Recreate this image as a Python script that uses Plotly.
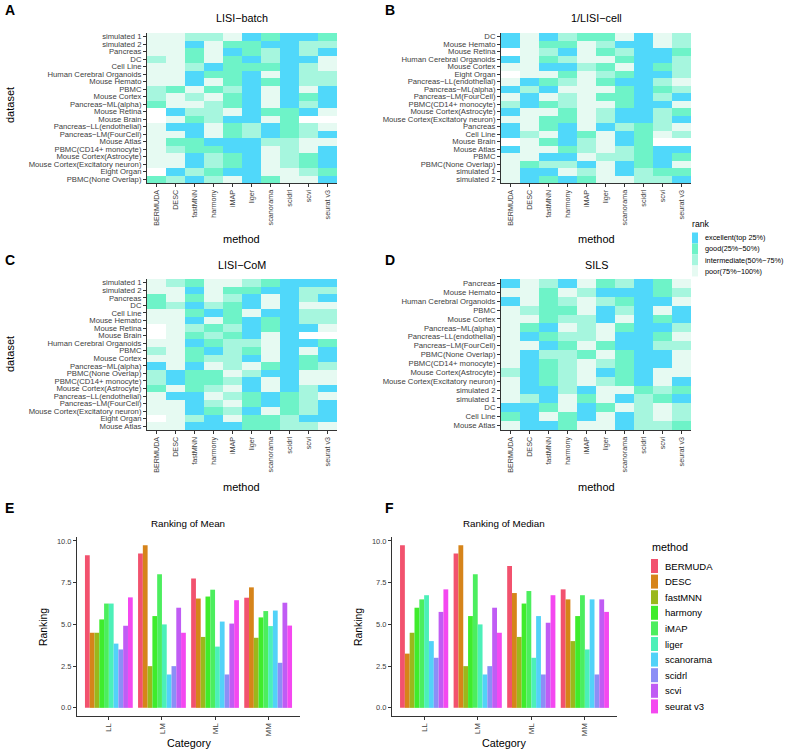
import plotly.graph_objects as go

W, H = 786, 752
FONT = "Liberation Sans, Arial, Helvetica, sans-serif"

methods = ["BERMUDA", "DESC", "fastMNN", "harmony", "iMAP", "liger",
           "scanorama", "scidrl", "scvi", "seurat v3"]

# rank codes per cell: E=excellent, G=good, I=intermediate, P=poor, N=missing
rank_levels = ["excellent(top 25%)", "good(25%\u221250%)",
               "intermediate(50%\u221275%)", "poor(75%\u2212100%)"]

datasets_A = ["simulated 1", "simulated 2", "Pancreas", "DC", "Cell Line",
              "Human Cerebral Organoids", "Mouse Hemato", "PBMC", "Mouse Cortex",
              "Pancreas\u2212ML(alpha)", "Mouse Retina", "Mouse Brain",
              "Pancreas\u2212LL(endothelial)", "Pancreas\u2212LM(FourCell)", "Mouse Atlas",
              "PBMC(CD14+ monocyte)", "Mouse Cortex(Astrocyte)",
              "Mouse Cortex(Excitatory neuron)", "Eight Organ", "PBMC(None Overlap)"]
ranks_A = ["PPIIPEGEEG", "PPEPGGEEII", "PPGPEGIEIE", "IPGPGEIEEP", "PPIEGGGEIP",
           "PPEGGEPEII", "PPEPGEGEII", "IGPGIEPEPE", "IPIPGEPEGE", "GPPIGEPEIE",
           "NEIIPEGGEP", "NPGIEEPGNN", "PEEPGIEGIP", "PPEPGIEGIE", "PGGEEEIIPP",
           "PIGGEEPIPE", "PPEIGEPIGE", "PPEIGEPIGE", "NEIGEEPPIG", "GIEIPEGPPE"]

datasets_B = ["DC", "Mouse Hemato", "Mouse Retina", "Human Cerebral Organoids",
              "Mouse Cortex", "Eight Organ", "Pancreas\u2212LL(endothelial)",
              "Pancreas\u2212ML(alpha)", "Pancreas\u2212LM(FourCell)", "PBMC(CD14+ monocyte)",
              "Mouse Cortex(Astrocyte)", "Mouse Cortex(Excitatory neuron)", "Pancreas",
              "Cell Line", "Mouse Brain", "Mouse Atlas", "PBMC", "PBMC(None Overlap)",
              "simulated 1", "simulated 2"]
ranks_B = ["EPEIGGPEPI", "EPGGPIEEPI", "NPIEPGIEEG", "EPGIPPGEEI", "PPEEIGPEGI",
           "NPPGPIGEEI", "PEGIPGEEIP", "EIEPPPGEGI", "PEPIPGGEIE", "IEGIPPGEEP",
           "EPPGPIEEIG", "PPGGPIEEIE", "EPGEPEIGIP", "EIPEGPEGPI", "NPGEIPEGNN",
           "EPPGIPIGEE", "PPEEPIIGEG", "PGIIEPEGEP", "PEEPIPEIGG", "PEGEGPPIIE"]

datasets_C = ["simulated 1", "simulated 2", "Pancreas", "DC", "Cell Line", "Mouse Hemato",
              "Mouse Retina", "Mouse Brain", "Human Cerebral Organoids", "PBMC",
              "Mouse Cortex", "Pancreas\u2212ML(alpha)", "PBMC(None Overlap)",
              "PBMC(CD14+ monocyte)", "Mouse Cortex(Astrocyte)",
              "Pancreas\u2212LL(endothelial)", "Pancreas\u2212LM(FourCell)",
              "Mouse Cortex(Excitatory neuron)", "Eight Organ", "Mouse Atlas"]
ranks_C = ["PIGPPIGEEE", "PPEPGGEEII", "GPGPIEPEIE", "GIEIGEPEPP", "PPGEGPEEII",
           "PPEPGEGEII", "NPIGIEGEEP", "NPGIGEPENN", "PPEGIIPEEG", "IPGEIGPEPE",
           "PPGIIEPEGE", "EPEPIPGEGI", "IEGGPIEEPP", "IEGGIEPEPP", "GPGIPEPEIE",
           "PEEPIGEGIP", "PPEIPGEGIE", "PPEGIEPGIE", "NPIEPGGIEE", "PPEEEGGIIP"]

datasets_D = ["Pancreas", "Mouse Hemato", "Human Cerebral Organoids", "PBMC",
              "Mouse Cortex", "Pancreas\u2212ML(alpha)", "Pancreas\u2212LL(endothelial)",
              "Pancreas\u2212LM(FourCell)", "PBMC(None Overlap)", "PBMC(CD14+ monocyte)",
              "Mouse Cortex(Astrocyte)", "Mouse Cortex(Excitatory neuron)",
              "simulated 2", "simulated 1", "DC", "Cell Line", "Mouse Atlas"]
ranks_D = ["EPIEPGIEGP", "PPGPIEEEGI", "EPGIPIGEEP", "PIGGPEIEPE", "PPGIIEPEGE",
           "PGEPIPGEEI", "PEGIIPEEGP", "PPEGPGEEII", "PEIIGPGEEP", "PEGIPIGEEP",
           "IEGIPEGEPP", "PEGIPIGEPE", "PEEIEPPGIG", "PIEPGPEIGE", "EEGPEGPIPI",
           "GEPGEPEIPI", "PEEGPPEIIG"]

categories = ["LL", "LM", "ML", "MM"]
mean_LL = [9.15, 4.5, 4.5, 5.3, 6.25, 6.25, 3.85, 3.5, 4.92, 6.62]
mean_LM = [9.25, 9.75, 2.5, 5.5, 8.0, 5.0, 2.0, 2.5, 6.0, 4.5]
mean_ML = [7.75, 6.55, 4.25, 6.67, 7.08, 3.67, 5.17, 2.0, 5.05, 6.45]
mean_MM = [6.6, 7.22, 4.2, 5.42, 5.8, 4.9, 5.83, 2.7, 6.3, 4.93]
median_LL = [9.75, 3.25, 4.5, 6.0, 6.5, 6.75, 4.0, 3.0, 5.75, 7.1]
median_LM = [9.25, 9.75, 2.5, 5.5, 8.0, 5.0, 2.0, 2.5, 6.0, 4.5]
median_ML = [8.5, 6.88, 4.25, 6.25, 7.0, 3.0, 5.5, 2.0, 5.1, 6.75]
median_MM = [7.1, 6.5, 4.0, 5.5, 6.75, 3.5, 6.5, 2.0, 6.5, 5.75]

# ---- styles ----
rank_colors = ["#50D8FA", "#6EF3C8", "#A6F6DE", "#E6FAF2"]
na_color = "#FFFFFF"
method_colors = ["#F2526E", "#D6841A", "#9AB81C", "#3FEC2C", "#4CEE5E",
                 "#4CF0B8", "#52D2F8", "#8C8EF6", "#C05CF4", "#F448F0"]
code_val = {"N": 0, "E": 1, "G": 2, "I": 3, "P": 4}
cs = [[0, na_color], [0.125, na_color],
      [0.125, rank_colors[0]], [0.375, rank_colors[0]],
      [0.375, rank_colors[1]], [0.625, rank_colors[1]],
      [0.625, rank_colors[2]], [0.875, rank_colors[2]],
      [0.875, rank_colors[3]], [1, rank_colors[3]]]
AX = "#333333"
TXT = "#404040"


def fx(p):
    return p / W


def fy(p):
    return 1 - p / H


fig = go.Figure()
heat_panels = [
    ("", datasets_A, ranks_A, (147, 337), (33, 183)),
    ("2", datasets_B, ranks_B, (501, 691), (33, 183)),
    ("3", datasets_C, ranks_C, (147, 337), (279, 430)),
    ("4", datasets_D, ranks_D, (501, 691), (279, 430)),
]
layout = dict()
for sfx, rows, codes, (x0, x1), (y0, y1) in heat_panels:
    z = [[code_val[c] for c in r] for r in codes]
    fig.add_trace(go.Heatmap(z=z, x=methods, y=rows, colorscale=cs, zmin=0, zmax=4,
                             showscale=False, xaxis="x" + sfx, yaxis="y" + sfx,
                             xgap=0, ygap=0))
    layout["xaxis" + sfx] = dict(
        domain=[fx(x0), fx(x1)], anchor="y" + sfx, type="category",
        tickmode="array", tickvals=methods, ticktext=methods, tickangle=-90,
        tickfont=dict(size=7.2, color=TXT, family=FONT), ticks="outside", ticklen=3,
        tickcolor=AX, showline=True, linecolor=AX, linewidth=1, showgrid=False,
        zeroline=False, automargin=False, fixedrange=True)
    layout["yaxis" + sfx] = dict(
        domain=[fy(y1), fy(y0)], anchor="x" + sfx, type="category",
        autorange="reversed", tickmode="array", tickvals=rows, ticktext=rows,
        tickfont=dict(size=7.7, color=TXT, family=FONT), ticks="outside", ticklen=3,
        tickcolor=AX, showline=True, linecolor=AX, linewidth=1, showgrid=False,
        zeroline=False, automargin=False, fixedrange=True)

bar_panels = [
    ("5", [mean_LL, mean_LM, mean_ML, mean_MM], (77, 300)),
    ("6", [median_LL, median_LM, median_ML, median_MM], (392, 617)),
]
for sfx, vals, (x0, x1) in bar_panels:
    for i, m in enumerate(methods):
        fig.add_trace(go.Bar(x=categories, y=[v[i] for v in vals], name=m,
                             marker=dict(color=method_colors[i], line=dict(width=0)),
                             xaxis="x" + sfx, yaxis="y" + sfx, showlegend=False))
    layout["xaxis" + sfx] = dict(
        domain=[fx(x0), fx(x1)], anchor="y" + sfx, type="category",
        range=[-0.6, 3.6], tickangle=-90,
        tickfont=dict(size=8, color=TXT, family=FONT), ticks="outside", ticklen=3,
        tickcolor=AX, showline=True, linecolor=AX, linewidth=1, showgrid=False,
        zeroline=False, automargin=False, fixedrange=True)
    layout["yaxis" + sfx] = dict(
        domain=[fy(716), fy(537)], anchor="x" + sfx, range=[-0.4875, 10.2375],
        tickmode="array", tickvals=[0, 2.5, 5, 7.5, 10],
        ticktext=["0.0", "2.5", "5.0", "7.5", "10.0"],
        tickfont=dict(size=7.5, color=TXT, family=FONT), ticks="outside", ticklen=3,
        tickcolor=AX, showline=True, linecolor=AX, linewidth=1, showgrid=False,
        zeroline=False, automargin=False, fixedrange=True)

ann = []
shapes = []


def text(x, y, s, size, xanchor="center", yanchor="middle", bold=False, angle=0,
         color="black"):
    ann.append(dict(x=fx(x), y=fy(y), xref="paper", yref="paper",
                    text="<b>" + s + "</b>" if bold else s,
                    showarrow=False, xanchor=xanchor, yanchor=yanchor, textangle=angle,
                    font=dict(size=size, family=FONT, color=color)))


# panel letters
for lt, x, y in [("A", 3, 10), ("B", 383, 10), ("C", 3, 260), ("D", 383, 260),
                 ("E", 3, 508), ("F", 383, 508)]:
    text(x, y, lt, 14, xanchor="left", bold=True)

# heatmap titles and axis titles
for t, cx, cy in [("LISI\u2212batch", 242, 18), ("1/LISI\u2212cell", 596, 18),
                  ("LISI\u2212CoM", 242, 265), ("SILS", 596, 265)]:
    text(cx, cy, t, 10.8)
for cx, cy in [(242, 239), (596, 239), (242, 487), (596, 487)]:
    text(cx, cy, "method", 11)
text(10, 105, "dataset", 11, angle=-90)
text(10, 354, "dataset", 11, angle=-90)

# bar titles
text(188, 523, "Ranking of Mean", 9.8)
text(504, 523, "Ranking of Median", 9.8)
text(189, 743, "Category", 10.8)
text(504, 743, "Category", 10.8)
text(43, 627, "Ranking", 10.4, angle=-90)
text(358, 627, "Ranking", 10.4, angle=-90)

# rank legend
text(690, 224, "rank", 8.7, xanchor="left")
for i, lab in enumerate(rank_levels):
    cy = 238 + 11 * i
    shapes.append(dict(type="rect", xref="paper", yref="paper",
                       x0=fx(692), x1=fx(698), y0=fy(cy + 5.5), y1=fy(cy - 5.5),
                       fillcolor=rank_colors[i], line=dict(width=0)))
    text(703, cy, lab, 7.3, xanchor="left")

# method legend
text(650, 547, "method", 10.8, xanchor="left")
for i, m in enumerate(methods):
    cy = 566 + 15.6 * i
    shapes.append(dict(type="rect", xref="paper", yref="paper",
                       x0=fx(651), x1=fx(658), y0=fy(cy + 7), y1=fy(cy - 7),
                       fillcolor=method_colors[i], line=dict(width=0)))
    text(663, cy, m, 9.5, xanchor="left")

fig.update_layout(
    width=W, height=H, margin=dict(l=0, r=0, t=0, b=0),
    paper_bgcolor="white", plot_bgcolor="white",
    barmode="group", bargap=0.1, bargroupgap=0,
    font=dict(family=FONT, color="black"),
    annotations=ann, shapes=shapes, showlegend=False, **layout)

fig.write_html("out.html", config={"displayModeBar": False},
               post_script="document.body.style.margin='0';"
                           "document.body.style.overflow='hidden';")
